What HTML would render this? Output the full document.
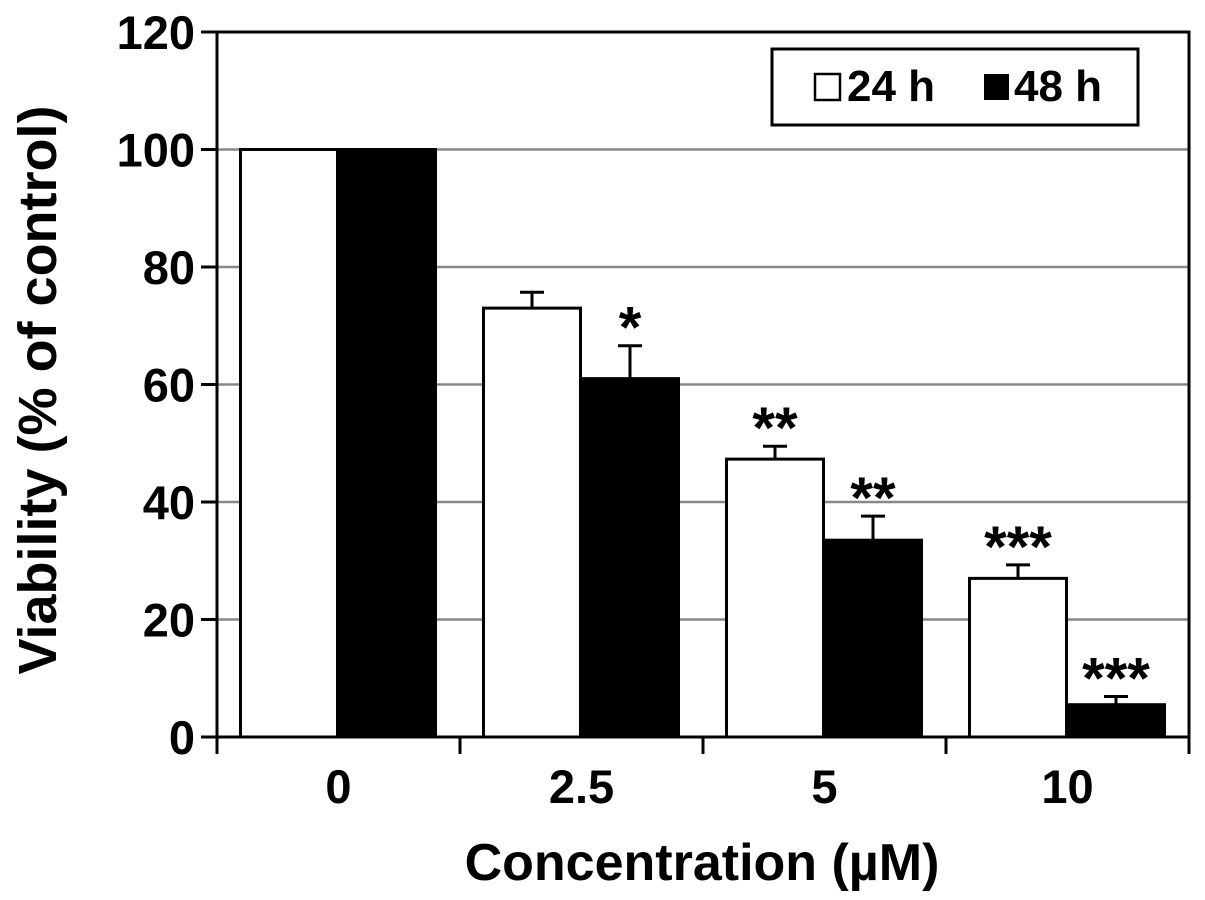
<!DOCTYPE html>
<html><head><meta charset="utf-8"><style>
body{margin:0;background:#fff}
svg text{font-family:"Liberation Sans",Arial,sans-serif;font-weight:bold;fill:#000}
</style></head><body>
<svg id="chart" width="1205" height="895" viewBox="0 0 1205 895"></svg>
<script>
const categories=["0","2.5","5","10"];
const values24=[100,73,47.3,27];
const values48=[100,61,33.5,5.5];
const err24=[0,2.7,2.2,2.3];
const err48=[0,5.6,4.1,1.4];
const stars24=["","","**","***"];
const stars48=["","*","**","***"];
const yTicks=[0,20,40,60,80,100,120];
const NS="http://www.w3.org/2000/svg";
const svg=document.getElementById('chart');
const X0=217,X1=1189,Y0=737,YT=32,YMAX=120;
const y=v=>Y0-(v/YMAX)*(Y0-YT);
const cw=(X1-X0)/categories.length;
const xc=i=>X0+cw*i+cw/2;
function mk(tag,attrs,txt){const e=document.createElementNS(NS,tag);for(const k in attrs)e.setAttribute(k,attrs[k]);if(txt!==undefined)e.textContent=txt;svg.appendChild(e);return e;}
yTicks.forEach(t=>{if(t>0&&t<YMAX){const g=mk('line',{x1:X0,x2:X1,y1:y(t),y2:y(t),stroke:'#888','stroke-width':2.5});

}
const tk=mk('line',{x1:X0-16,x2:X0,y1:y(t),y2:y(t),stroke:'#000','stroke-width':3});


const lb=mk('text',{x:X0-22,y:y(t)+17,'text-anchor':'end','font-size':47},t);

});
const bw=97;
function drawBar(i,v,e,s,fill,off,nm){
const bx=xc(i)+off;
const r=mk('rect',{x:bx,y:y(v),width:bw,height:Y0-y(v),fill:fill,stroke:'#000','stroke-width':3});


if(e>0){const cx=bx+bw/2;
const l=mk('path',{d:`M${cx} ${y(v)} V${y(v+e)} M${cx-12} ${y(v+e)} H${cx+12}`,stroke:'#000','stroke-width':3,fill:'none'});

}
if(s){const t=mk('text',{x:bx+bw/2,y:y(v+e)+2,'text-anchor':'middle','font-size':58},s);

}
}
categories.forEach((c,i)=>{
drawBar(i,values24[i],err24[i],stars24[i],'#fff',-bw-1,'bar-24h');
drawBar(i,values48[i],err48[i],stars48[i],'#000',0,'bar-48h');
const lb=mk('text',{x:xc(i),y:803,'text-anchor':'middle','font-size':47},c);


if(i>0){const tk=mk('line',{x1:X0+cw*i,x2:X0+cw*i,y1:Y0,y2:Y0+17,stroke:'#000','stroke-width':3});

}
});
const fr=mk('path',{d:`M${X0} ${YT} H${X1} V${Y0+17} M${X0} ${Y0+17} V${YT} M${X0-16} ${Y0} H${X1}`,stroke:'#000','stroke-width':3,fill:'none'});


const lg=mk('rect',{x:772,y:49,width:366,height:76,fill:'#fff',stroke:'#000','stroke-width':3});


const s1=mk('rect',{x:815,y:74,width:25,height:26,fill:'#fff',stroke:'#000','stroke-width':2.5});


const t1=mk('text',{x:847,y:101,'font-size':44},'24 h');


const s2=mk('rect',{x:984,y:74,width:25,height:26,fill:'#000'});


const t2=mk('text',{x:1014,y:101,'font-size':44},'48 h');


const xt=mk('text',{x:702,y:880,'text-anchor':'middle','font-size':52},'Concentration (µM)');


const yt=mk('text',{x:0,y:0,'text-anchor':'middle','font-size':54,transform:'translate(56,390) rotate(-90)'},'Viability (% of control)');


</script>
</body></html>
